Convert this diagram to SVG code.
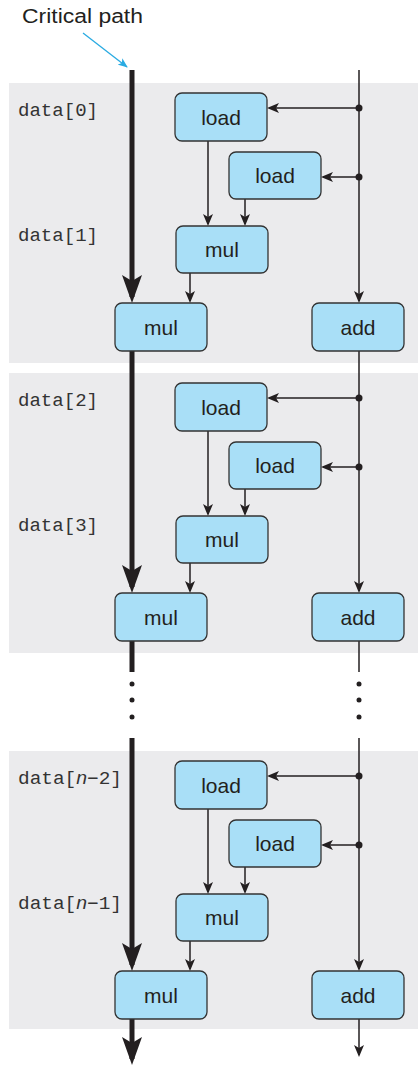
<svg xmlns="http://www.w3.org/2000/svg" width="418" height="1066" viewBox="0 0 418 1066">
<style>
.panel{fill:#ebebed;}
.node rect{fill:#a9dff7;stroke:#333;stroke-width:1.3;}
.node text{font-family:"Liberation Sans",Arial,sans-serif;font-size:21px;fill:#231f20;text-anchor:middle;}
.lbl{font-family:"Liberation Mono","Courier New",monospace;font-size:18px;fill:#333;}
.lbl .it{font-family:"Liberation Sans",Arial,sans-serif;font-style:italic;}
.thin{stroke:#231f20;stroke-width:1.5;fill:none;}
.thick{stroke:#231f20;stroke-width:5;fill:none;}
.dot{fill:#231f20;}
</style>
<defs>
<marker id="ah" markerUnits="userSpaceOnUse" viewBox="0 0 12 10" refX="10" refY="5" markerWidth="12" markerHeight="10" orient="auto">
<path d="M0,0 L12,5 L0,10 L3,5 Z" fill="#231f20"/>
</marker>
<marker id="ahb" markerUnits="userSpaceOnUse" viewBox="0 0 28 20" refX="22" refY="10" markerWidth="28" markerHeight="20" orient="auto">
<path d="M0,0 L28,10 L0,20 L6,10 Z" fill="#231f20"/>
</marker>
<marker id="ahc" markerUnits="userSpaceOnUse" viewBox="0 0 10 8" refX="9" refY="4" markerWidth="10" markerHeight="8" orient="auto">
<path d="M0,0 L10,4 L0,8 L2.5,4 Z" fill="#29abe2"/>
</marker>
</defs>

<g id="panels">
<rect class="panel" x="9" y="83" width="409" height="280"/>
<rect class="panel" x="9" y="373" width="409" height="280"/>
<rect class="panel" x="9" y="751" width="409" height="278"/>
</g>

<g id="title">
<text x="22" y="23" font-family="Liberation Sans,Arial,sans-serif" font-size="20" fill="#231f20" textLength="121" lengthAdjust="spacingAndGlyphs">Critical path</text>
<line x1="83" y1="33" x2="127" y2="67" stroke="#29abe2" stroke-width="1.3" marker-end="url(#ahc)"/>
</g>

<g id="labels">
<text class="lbl" x="18" y="116" textLength="80" lengthAdjust="spacingAndGlyphs">data[0]</text>
<text class="lbl" x="18" y="241" textLength="80" lengthAdjust="spacingAndGlyphs">data[1]</text>
<text class="lbl" x="18" y="406" textLength="80" lengthAdjust="spacingAndGlyphs">data[2]</text>
<text class="lbl" x="18" y="531" textLength="80" lengthAdjust="spacingAndGlyphs">data[3]</text>
<text class="lbl" x="18" y="784" textLength="104" lengthAdjust="spacingAndGlyphs">data[<tspan class="it">n</tspan>−2]</text>
<text class="lbl" x="18" y="909" textLength="104" lengthAdjust="spacingAndGlyphs">data[<tspan class="it">n</tspan>−1]</text>
</g>

<g id="connectors">
<line class="thick" x1="132" y1="70" x2="132" y2="297" marker-end="url(#ahb)"/>
<line class="thick" x1="132" y1="351" x2="132" y2="587" marker-end="url(#ahb)"/>
<line class="thick" x1="132" y1="641" x2="132" y2="672"/>
<line class="thick" x1="132" y1="738" x2="132" y2="965" marker-end="url(#ahb)"/>
<line class="thick" x1="132" y1="1019" x2="132" y2="1059" marker-end="url(#ahb)"/>
<circle class="dot" cx="132" cy="684" r="2.5"/>
<circle class="dot" cx="132" cy="700" r="2.5"/>
<circle class="dot" cx="132" cy="717" r="2.5"/>
<line class="thin" x1="359" y1="70" x2="359" y2="301" marker-end="url(#ah)"/>
<line class="thin" x1="359" y1="351" x2="359" y2="591" marker-end="url(#ah)"/>
<line class="thin" x1="359" y1="641" x2="359" y2="672"/>
<line class="thin" x1="359" y1="738" x2="359" y2="969" marker-end="url(#ah)"/>
<line class="thin" x1="359" y1="1019" x2="359" y2="1055" marker-end="url(#ah)"/>
<circle class="dot" cx="359" cy="684" r="2.5"/>
<circle class="dot" cx="359" cy="700" r="2.5"/>
<circle class="dot" cx="359" cy="717" r="2.5"/>
<circle class="dot" cx="359" cy="108" r="3.5"/>
<circle class="dot" cx="359" cy="177" r="3.5"/>
<line class="thin" x1="359" y1="108" x2="269" y2="108" marker-end="url(#ah)"/>
<line class="thin" x1="359" y1="177" x2="323" y2="177" marker-end="url(#ah)"/>
<line class="thin" x1="208" y1="141" x2="208" y2="224" marker-end="url(#ah)"/>
<line class="thin" x1="245" y1="199" x2="245" y2="224" marker-end="url(#ah)"/>
<line class="thin" x1="190" y1="273" x2="190" y2="301" marker-end="url(#ah)"/>
<circle class="dot" cx="359" cy="398" r="3.5"/>
<circle class="dot" cx="359" cy="467" r="3.5"/>
<line class="thin" x1="359" y1="398" x2="269" y2="398" marker-end="url(#ah)"/>
<line class="thin" x1="359" y1="467" x2="323" y2="467" marker-end="url(#ah)"/>
<line class="thin" x1="208" y1="431" x2="208" y2="514" marker-end="url(#ah)"/>
<line class="thin" x1="245" y1="489" x2="245" y2="514" marker-end="url(#ah)"/>
<line class="thin" x1="190" y1="563" x2="190" y2="591" marker-end="url(#ah)"/>
<circle class="dot" cx="359" cy="776" r="3.5"/>
<circle class="dot" cx="359" cy="845" r="3.5"/>
<line class="thin" x1="359" y1="776" x2="269" y2="776" marker-end="url(#ah)"/>
<line class="thin" x1="359" y1="845" x2="323" y2="845" marker-end="url(#ah)"/>
<line class="thin" x1="208" y1="809" x2="208" y2="892" marker-end="url(#ah)"/>
<line class="thin" x1="245" y1="867" x2="245" y2="892" marker-end="url(#ah)"/>
<line class="thin" x1="190" y1="941" x2="190" y2="969" marker-end="url(#ah)"/>
</g>

<g id="load1a" class="node"><rect x="175" y="93" width="92" height="48" rx="7"/><text x="221" y="124.5">load</text></g>
<g id="load2a" class="node"><rect x="229" y="152" width="92" height="47" rx="7"/><text x="275" y="183">load</text></g>
<g id="mul1a" class="node"><rect x="176" y="226" width="92" height="47" rx="7"/><text x="222" y="257">mul</text></g>
<g id="mul2a" class="node"><rect x="115" y="303" width="92" height="48" rx="7"/><text x="161" y="334.5">mul</text></g>
<g id="adda" class="node"><rect x="312" y="303" width="92" height="48" rx="7"/><text x="358" y="334.5">add</text></g>

<g id="load1b" class="node"><rect x="175" y="383" width="92" height="48" rx="7"/><text x="221" y="414.5">load</text></g>
<g id="load2b" class="node"><rect x="229" y="442" width="92" height="47" rx="7"/><text x="275" y="473">load</text></g>
<g id="mul1b" class="node"><rect x="176" y="516" width="92" height="47" rx="7"/><text x="222" y="547">mul</text></g>
<g id="mul2b" class="node"><rect x="115" y="593" width="92" height="48" rx="7"/><text x="161" y="624.5">mul</text></g>
<g id="addb" class="node"><rect x="312" y="593" width="92" height="48" rx="7"/><text x="358" y="624.5">add</text></g>

<g id="load1c" class="node"><rect x="175" y="761" width="92" height="48" rx="7"/><text x="221" y="792.5">load</text></g>
<g id="load2c" class="node"><rect x="229" y="820" width="92" height="47" rx="7"/><text x="275" y="851">load</text></g>
<g id="mul1c" class="node"><rect x="176" y="894" width="92" height="47" rx="7"/><text x="222" y="925">mul</text></g>
<g id="mul2c" class="node"><rect x="115" y="971" width="92" height="48" rx="7"/><text x="161" y="1002.5">mul</text></g>
<g id="addc" class="node"><rect x="312" y="971" width="92" height="48" rx="7"/><text x="358" y="1002.5">add</text></g>
</svg>
